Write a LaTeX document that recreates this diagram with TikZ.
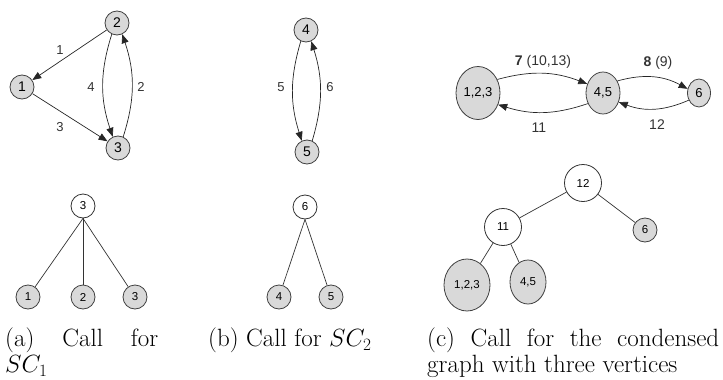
\documentclass[tikz,border=0pt]{standalone}
\usepackage{amsmath}
\usepackage{fontspec}
\usetikzlibrary{arrows.meta,shapes.geometric}
\newfontfamily\lblfont{Liberation Sans}

\tikzset{
  vtx/.style={circle, draw=black!75, fill=black!15, line width=0.8pt, inner sep=0pt, minimum size=24, font=\lblfont\fontsize{14}{14}\selectfont},
  tvtx/.style={circle, draw=black!80, fill=white, line width=0.8pt, inner sep=0pt, minimum size=24, font=\lblfont\fontsize{11.5}{12}\selectfont},
  cvtx/.style={ellipse, draw=black!75, fill=black!15, line width=0.8pt, inner sep=0pt, font=\lblfont\fontsize{13}{13}\selectfont},
  elbl/.style={font=\lblfont\fontsize{13}{13}\selectfont, text=black!80, inner sep=0.75pt},
  arc/.style={draw=black!85, line width=0.7pt, -{Triangle[length=9pt,width=7pt]}},
  lnk/.style={draw=black!80, line width=0.7pt},
  capt/.style={anchor=north west, inner sep=0pt, align=justify, font=\fontsize{25}{26}\selectfont}
}

\begin{document}
\begin{tikzpicture}[x=1pt,y=1pt,yscale=-1,xscale=1]
\useasboundingbox (0,0) rectangle (723,380);

% Graph SC_1
\node [vtx] (a2) at (117,23) {2};
\node [vtx] (a1) at (22,87) {1};
\node [vtx] (a3) at (118,148) {3};
\draw [arc] (a2) -- (a1);
\draw [arc] (a1) -- (a3);
\draw [arc] (a2.245) to[bend left=18] (a3.115);
\draw [arc] (a3.65) to[bend left=18] (a2.295);
% Text Node
\node [elbl] (l1) at (60,50) {1};
\node [elbl] (l4) at (91,87) {4};
\node [elbl] (l2) at (141,87) {2};
\node [elbl] (l3) at (60,127) {3};

% Tree SC_1
\node [tvtx] (ar) at (83,206) {3};
\node [vtx, font=\lblfont\fontsize{11.5}{12}\selectfont] (at1) at (28,297) {1};
\node [vtx, font=\lblfont\fontsize{11.5}{12}\selectfont] (at2) at (83,297) {2};
\node [vtx, font=\lblfont\fontsize{11.5}{12}\selectfont] (at3) at (135,297) {3};
\draw [lnk] (ar.south) -- (at1);
\draw [lnk] (ar.south) -- (at2);
\draw [lnk] (ar.south) -- (at3);

% Graph SC_2
\node [vtx] (b4) at (306,30) {4};
\node [vtx] (b5) at (307,152) {5};
\draw [arc] (b4.245) to[bend left=17] (b5.115);
\draw [arc] (b5.65) to[bend left=17] (b4.295);
% Text Node
\node [elbl] (l5) at (281,87) {5};
\node [elbl] (l6) at (330,87) {6};

% Tree SC_2
\node [tvtx] (br) at (305,207) {6};
\node [vtx, font=\lblfont\fontsize{11.5}{12}\selectfont] (bt4) at (279,297) {4};
\node [vtx, font=\lblfont\fontsize{11.5}{12}\selectfont] (bt5) at (331,297) {5};
\draw [lnk] (br.south) -- (bt4);
\draw [lnk] (br.south) -- (bt5);

% Condensed graph
\node [cvtx, minimum width=44, minimum height=53] (c123) at (478,93) {1,2,3};
\node [cvtx, minimum width=34, minimum height=42] (c45) at (603,93) {4,5};
\node [cvtx, minimum width=23, minimum height=28] (c6) at (699,93) {6};
\draw [arc] (c123.35) to[bend right=18] (c45.150);
\draw [arc] (c45.215) to[bend right=18] (c123.330);
\draw [arc] (c45.40) to[bend right=22] (c6.160);
\draw [arc] (c6.215) to[bend right=22] (c45.330);
% Text Node
\node [elbl, font=\lblfont\fontsize{14}{14}\selectfont] (l7) at (543,62) {\textbf{7} (10,13)};
\node [elbl, font=\lblfont\fontsize{14}{14}\selectfont] (l8) at (658,63) {\textbf{8} (9)};
\node [elbl, font=\lblfont\fontsize{14}{14}\selectfont] (l11) at (539,128) {11};
\node [elbl, font=\lblfont\fontsize{14}{14}\selectfont] (l12) at (657,125) {12};

% Tree condensed
\node [tvtx, minimum size=37] (cr) at (583,183) {12};
\node [tvtx, minimum size=37] (ci) at (503,227) {11};
\node [vtx, font=\lblfont\fontsize{11.5}{12}\selectfont] (ct6) at (645,230) {6};
\node [cvtx, minimum width=46, minimum height=52, font=\lblfont\fontsize{11.5}{12}\selectfont] (ct123) at (467,285) {1,2,3};
\node [cvtx, minimum width=36, minimum height=44, font=\lblfont\fontsize{11.5}{12}\selectfont] (ct45) at (528,282) {4,5};
\draw [lnk] (cr) -- (ci);
\draw [lnk] (cr) -- (ct6);
\draw [lnk] (ci) -- (ct123);
\draw [lnk] (ci) -- (ct45);

% Captions
\node [capt, text width=153] (capa) at (5,328) {(a) Call for\linebreak $SC_1$};
\node [capt, text width=190] (capb) at (208,328) {(b) Call for $SC_2$};
\node [capt, text width=292] (capc) at (427,328) {(c) Call for the condensed graph with three vertices};

\end{tikzpicture}
\end{document}
